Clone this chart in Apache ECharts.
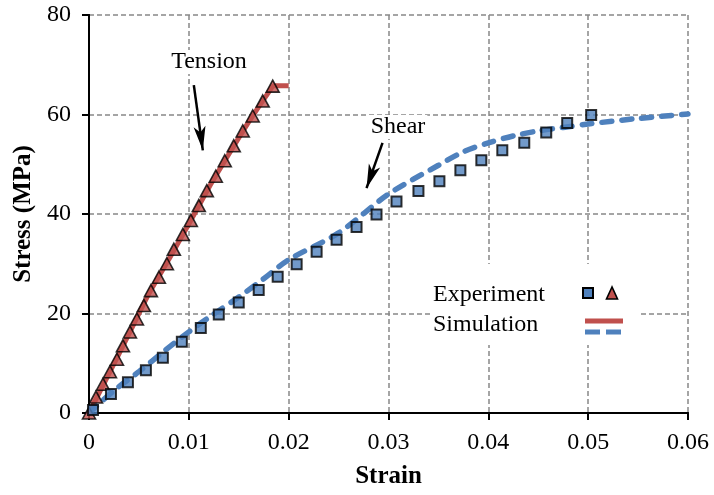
<!DOCTYPE html>
<html>
<head>
<meta charset="utf-8">
<script src="https://cdn.jsdelivr.net/npm/echarts@6/dist/echarts.min.js"></script>
<style>
  html, body { margin: 0; padding: 0; background: #fff; }
  #chart-box { width: 714px; height: 495px; }
</style>
</head>
<body>
<div id="chart-box"></div>
<script>
// experiment points
var tensionStrain = [0, 0.0007, 0.0014, 0.0021, 0.0028, 0.0034, 0.0041, 0.0048, 0.0055, 0.0062, 0.0070, 0.0078,
  0.0085, 0.0094, 0.0102, 0.0110, 0.0118, 0.0127, 0.0136, 0.0145, 0.0154, 0.0164, 0.0174, 0.0184];
var tensionStress = [0, 3.2, 5.8, 8.3, 10.8, 13.5, 16.3, 18.9, 21.6, 24.6, 27.3, 30.0,
  32.9, 35.9, 38.7, 41.7, 44.7, 47.6, 50.7, 53.7, 56.7, 59.7, 62.7, 65.7];

var shearStrain = [0.0004, 0.0022, 0.0039, 0.0057, 0.0074, 0.0093, 0.0112, 0.0130, 0.0150, 0.0170, 0.0189, 0.0208,
  0.0228, 0.0248, 0.0268, 0.0288, 0.0308, 0.0330, 0.0351, 0.0372, 0.0393, 0.0414, 0.0436, 0.0458, 0.0479, 0.0503];
var shearStress = [0.6, 3.8, 6.2, 8.6, 11.1, 14.3, 17.1, 19.8, 22.2, 24.7, 27.4, 29.9,
  32.4, 34.8, 37.4, 39.9, 42.5, 44.6, 46.6, 48.8, 50.8, 52.8, 54.3, 56.4, 58.3, 59.9];

// simulation curves
var tensionSimStrain = [0, 0.002, 0.004, 0.006, 0.008, 0.010, 0.012, 0.014, 0.016, 0.018, 0.0185, 0.020];
var tensionSimStress = [0, 7.9, 15.9, 24.0, 30.9, 38.0, 45.3, 52.0, 58.5, 64.5, 65.8, 65.8];

var shearSimStrain = [0, 0.0025, 0.005, 0.0075, 0.010, 0.0125, 0.015, 0.0175, 0.020, 0.025, 0.030, 0.035,
  0.0375, 0.040, 0.0425, 0.045, 0.0475, 0.050, 0.055, 0.060];
var shearSimStress = [0, 4.5, 8.3, 12.4, 16.3, 19.9, 23.3, 27.0, 30.8, 36.2, 44.0, 49.8,
  52.5, 54.3, 55.7, 56.7, 57.4, 58.1, 59.2, 60.1];

// annotation arrows [start, tip]
var tensionArrow = [[0.0105, 65.9], [0.0114, 52.8]];
var shearArrow = [[0.0294, 54.3], [0.0278, 45.2]];

var xTicks = ['0', '0.01', '0.02', '0.03', '0.04', '0.05', '0.06'];

function pairs(xs, ys) {
  return xs.map(function (x, i) { return [x, ys[i]]; });
}

var font = 'Liberation Serif, Times New Roman, serif';
var red = '#C0504D';
var blue = '#4F81BD';

var chart = echarts.init(document.getElementById('chart-box'));
var option = {
  backgroundColor: '#fff',
  animation: false,
  grid: { left: 89, right: 26, top: 15, bottom: 82 },
  xAxis: [{
    type: 'value', min: 0, max: 0.06, interval: 0.01,
    name: 'Strain', nameLocation: 'middle', nameGap: 51,
    nameTextStyle: { fontFamily: font, fontSize: 25, fontWeight: 'bold', color: '#000' },
    axisLine: { onZero: false, lineStyle: { color: '#000', width: 2 } },
    axisTick: { length: 7, lineStyle: { color: '#000', width: 2 } },
    axisLabel: {
      margin: 18, fontFamily: font, fontSize: 24, color: '#000',
      formatter: function (v) { return xTicks[Math.round(v * 100)]; }
    },
    splitLine: { show: true, lineStyle: { color: '#888', width: 1.5, type: [5, 3] } }
  }, {
    type: 'value', min: 0, max: 0.06, position: 'top',
    axisLine: { show: true, lineStyle: { color: '#000', width: 2 } },
    axisTick: { show: false }, axisLabel: { show: false }, splitLine: { show: false }
  }],
  yAxis: [{
    type: 'value', min: 0, max: 80, interval: 20,
    name: 'Stress (MPa)', nameLocation: 'middle', nameGap: 52,
    nameTextStyle: { fontFamily: font, fontSize: 25, fontWeight: 'bold', color: '#000' },
    axisLine: { show: true, onZero: false, lineStyle: { color: '#000', width: 2 } },
    axisTick: { show: true, length: 7, lineStyle: { color: '#000', width: 2 } },
    axisLabel: { margin: 18, fontFamily: font, fontSize: 24, color: '#000' },
    splitLine: { show: true, lineStyle: { color: '#888', width: 1.5, type: [5, 3] } }
  }, {
    type: 'value', min: 0, max: 80, position: 'right',
    axisLine: { show: true, lineStyle: { color: '#000', width: 2 } },
    axisTick: { show: false }, axisLabel: { show: false }, splitLine: { show: false }
  }],
  series: [
    {
      name: 'Tension simulation', type: 'line', z: 3,
      data: pairs(tensionSimStrain, tensionSimStress),
      showSymbol: false, smooth: 0.2,
      lineStyle: { color: red, width: 5 }
    },
    {
      name: 'Shear simulation', type: 'line', z: 3,
      data: pairs(shearSimStrain, shearSimStress),
      showSymbol: false, smooth: 0.3,
      lineStyle: { color: blue, width: 5.5, type: [10, 10], cap: 'round' }
    },
    {
      name: 'Tension experiment', type: 'scatter', z: 5,
      data: pairs(tensionStrain, tensionStress),
      symbol: 'triangle', symbolSize: [13, 12],
      itemStyle: { color: red, borderColor: '#000', borderWidth: 1.6 }
    },
    {
      name: 'Shear experiment', type: 'scatter', z: 5,
      data: pairs(shearStrain, shearStress),
      symbol: 'rect', symbolSize: 10,
      itemStyle: { color: blue, borderColor: '#000', borderWidth: 2 }
    },
    {
      name: 'arrows', type: 'line', data: [], z: 6,
      markLine: {
        silent: true, symbol: ['none', 'arrow'], symbolSize: [9, 24],
        label: { show: false },
        lineStyle: { color: '#000', width: 2.5, type: 'solid' },
        data: [
          [{ coord: tensionArrow[0] }, { coord: tensionArrow[1] }],
          [{ coord: shearArrow[0] }, { coord: shearArrow[1] }]
        ]
      }
    }
  ],
  graphic: [
    {
      type: 'text', z: 10, x: 209, y: 62,
      style: { text: 'Tension', font: '24px ' + font, fill: '#000', align: 'center', verticalAlign: 'middle',
        backgroundColor: '#fff', padding: [0, 2] }
    },
    {
      type: 'text', z: 10, x: 398, y: 127,
      style: { text: 'Shear', font: '24px ' + font, fill: '#000', align: 'center', verticalAlign: 'middle',
        backgroundColor: '#fff', padding: [0, 2] }
    },
    // legend box
    { type: 'rect', z: 10, shape: { x: 430, y: 264, width: 210, height: 81 }, style: { fill: '#fff' } },
    {
      type: 'text', z: 11, x: 433, y: 295,
      style: { text: 'Experiment', font: '24px ' + font, fill: '#000', verticalAlign: 'middle' }
    },
    {
      type: 'text', z: 11, x: 433, y: 325,
      style: { text: 'Simulation', font: '24px ' + font, fill: '#000', verticalAlign: 'middle' }
    },
    {
      type: 'rect', z: 11, shape: { x: 583, y: 288, width: 10, height: 10 },
      style: { fill: blue, stroke: '#000', lineWidth: 2 }
    },
    {
      type: 'polygon', z: 11, shape: { points: [[612, 287], [606.5, 299], [617.5, 299]] },
      style: { fill: red, stroke: '#000', lineWidth: 1.6 }
    },
    {
      type: 'line', z: 11, shape: { x1: 585, y1: 321, x2: 623, y2: 321 },
      style: { stroke: red, lineWidth: 5 }
    },
    {
      type: 'line', z: 11, shape: { x1: 585, y1: 332, x2: 621, y2: 332 },
      style: { stroke: blue, lineWidth: 5, lineDash: [15, 6] }
    }
  ]
};
chart.setOption(option);
</script>
</body>
</html>
